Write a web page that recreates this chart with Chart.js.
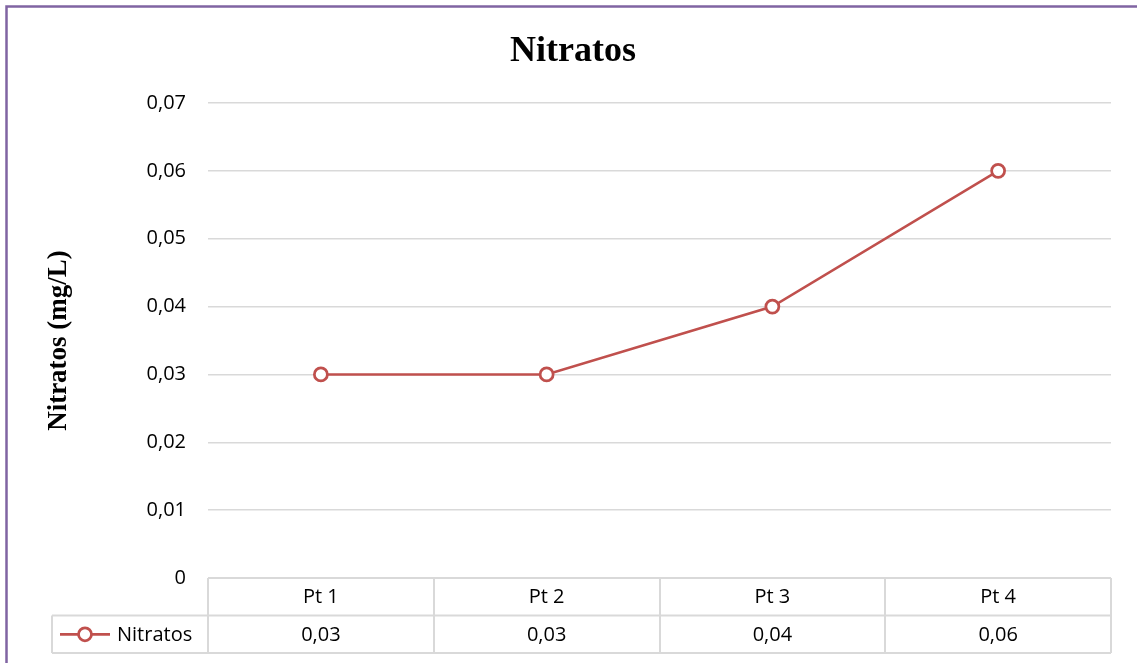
<!DOCTYPE html>
<html>
<head>
<meta charset="utf-8">
<script src="https://cdn.jsdelivr.net/npm/chart.js@4.4.0/dist/chart.umd.min.js"></script>
<style>
  html, body { margin: 0; padding: 0; background: #ffffff; }
  canvas { display: block; }
</style>
</head>
<body>
<canvas id="chart" width="1137" height="663"></canvas>
<script>
// Sampling points and nitrate concentrations (mg/L)
const categories = ['Pt 1', 'Pt 2', 'Pt 3', 'Pt 4'];
const nitratos = [0.03, 0.03, 0.04, 0.06];
const seriesName = 'Nitratos';
const chartTitle = 'Nitratos';
const yAxisTitle = 'Nitratos (mg/L)';
const yTicks = [0, 0.01, 0.02, 0.03, 0.04, 0.05, 0.06, 0.07];

const LINE_COLOR = '#C0504D';
const GRID_COLOR = '#D9D9D9';
const TEXT_FONT = "'Open Sans', 'Liberation Sans', sans-serif";

const fmt = v => String(Math.round(v * 100) / 100).replace('.', ',');

// Frame, title and rotated axis title
const decorations = {
  id: 'decorations',
  beforeDraw(chart) {
    const ctx = chart.ctx;
    ctx.save();
    ctx.fillStyle = '#ffffff';
    ctx.fillRect(0, 0, chart.width, chart.height);
    ctx.strokeStyle = '#8064A2';
    ctx.lineWidth = 2.5;
    ctx.beginPath();
    ctx.moveTo(6.5, chart.height + 5);
    ctx.lineTo(6.5, 6.5);
    ctx.lineTo(chart.width + 5, 6.5);
    ctx.stroke();
    ctx.restore();
  },
  afterDraw(chart) {
    const ctx = chart.ctx;
    const area = chart.chartArea;
    ctx.save();
    ctx.fillStyle = '#000000';
    ctx.font = "bold 36px 'Liberation Serif', 'Times New Roman', serif";
    ctx.textAlign = 'center';
    ctx.textBaseline = 'alphabetic';
    ctx.fillText(chartTitle, 573, 61);

    ctx.font = "bold 27px 'Liberation Serif', 'Times New Roman', serif";
    ctx.translate(59, (area.top + area.bottom) / 2);
    ctx.rotate(-Math.PI / 2);
    ctx.textBaseline = 'middle';
    ctx.fillText(yAxisTitle, 0, 0);
    ctx.restore();
  }
};

// Data table under the plot, aligned to the category scale
const dataTable = {
  id: 'dataTable',
  afterDraw(chart) {
    const ctx = chart.ctx;
    const x = chart.scales.x;
    const area = chart.chartArea;
    const n = categories.length;
    const cw = (area.right - area.left) / n;
    const top = area.bottom;
    const rowH = 37.5;
    const mid = top + rowH;
    const bottom = top + rowH * 2;
    const legendLeft = 52;

    ctx.save();
    ctx.strokeStyle = GRID_COLOR;
    ctx.lineWidth = 2;
    ctx.beginPath();
    // horizontal rules
    ctx.moveTo(area.left, top); ctx.lineTo(area.right, top);
    ctx.moveTo(legendLeft, mid); ctx.lineTo(area.right, mid);
    ctx.moveTo(legendLeft, bottom); ctx.lineTo(area.right, bottom);
    // vertical rules
    ctx.moveTo(legendLeft, mid); ctx.lineTo(legendLeft, bottom);
    for (let i = 0; i <= n; i++) {
      const px = Math.round(area.left + cw * i);
      ctx.moveTo(px, top); ctx.lineTo(px, bottom);
    }
    ctx.stroke();

    ctx.fillStyle = '#000000';
    ctx.font = '20px ' + TEXT_FONT;
    ctx.textAlign = 'center';
    ctx.textBaseline = 'middle';
    categories.forEach((c, i) => {
      const cx = x.getPixelForValue(i);
      ctx.fillText(c, cx, top + rowH / 2 + 1);
      ctx.fillText(fmt(nitratos[i]), cx, mid + rowH / 2 + 1);
    });

    // legend key
    const ly = mid + rowH / 2;
    ctx.strokeStyle = LINE_COLOR;
    ctx.lineWidth = 2.75;
    ctx.beginPath();
    ctx.moveTo(60, ly); ctx.lineTo(110, ly);
    ctx.stroke();
    ctx.beginPath();
    ctx.arc(85, ly, 6.5, 0, Math.PI * 2);
    ctx.fillStyle = '#ffffff';
    ctx.fill();
    ctx.stroke();
    ctx.fillStyle = '#000000';
    ctx.textAlign = 'left';
    ctx.fillText(seriesName, 117, ly + 1);
    ctx.restore();
  }
};

new Chart(document.getElementById('chart'), {
  type: 'line',
  data: {
    labels: categories,
    datasets: [{
      label: seriesName,
      data: nitratos,
      borderColor: LINE_COLOR,
      borderWidth: 2.5,
      pointRadius: 6.5,
      pointBorderWidth: 2.75,
      pointBackgroundColor: '#ffffff',
      pointBorderColor: LINE_COLOR,
      tension: 0
    }]
  },
  options: {
    responsive: false,
    animation: false,
    devicePixelRatio: 1,
    layout: { padding: { top: 103, right: 26, left: 0, bottom: 0 } },
    plugins: {
      legend: { display: false },
      title: { display: false },
      tooltip: { enabled: false }
    },
    scales: {
      x: {
        type: 'category',
        offset: true,
        grid: { display: false },
        border: { display: false },
        ticks: { display: false },
        afterFit(scale) { scale.height = 85; }
      },
      y: {
        min: 0,
        max: 0.07,
        afterBuildTicks(scale) { scale.ticks = yTicks.map(v => ({ value: v })); },
        afterFit(scale) { scale.width = 208; },
        grid: { color: GRID_COLOR, lineWidth: 1.5, drawTicks: false },
        border: { display: false },
        ticks: {
          padding: 22,
          color: '#000000',
          font: { family: TEXT_FONT, size: 20 },
          callback: v => fmt(v)
        }
      }
    }
  },
  plugins: [decorations, dataTable]
});
</script>
</body>
</html>
